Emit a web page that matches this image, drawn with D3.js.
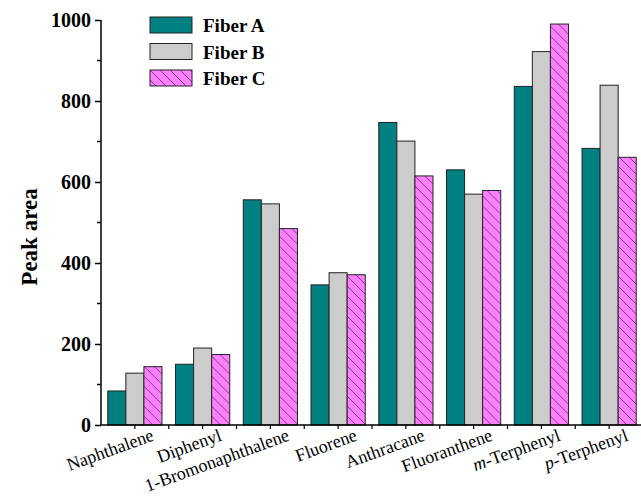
<!DOCTYPE html>
<html>
<head>
<meta charset="utf-8">
<script src="https://cdn.jsdelivr.net/npm/d3@7"></script>
<style>
  body { margin: 0; background: #fff; }
  svg { display: block; }
  text { font-family: "Liberation Serif", "Times New Roman", serif; }
</style>
</head>
<body>
<div id="chart"></div>
<script>
const compounds = ['Naphthalene', 'Diphenyl', '1-Bromonaphthalene', 'Fluorene',
                   'Anthracane', 'Fluoranthene', 'm-Terphenyl', 'p-Terphenyl'];
const seriesNames = ['Fiber A', 'Fiber B', 'Fiber C'];
const fiberA = [84, 150, 556, 346, 747, 630, 836, 683];
const fiberB = [128, 190, 546, 376, 701, 570, 922, 839];
const fiberC = [144, 174, 485, 371, 615, 579, 990, 661];
const yTicks = [0, 200, 400, 600, 800, 1000];

const width = 641;
const height = 502;
const plotLeft = 101;
const plotBottom = 425;
const plotTop = 20;
const serif = '"Liberation Serif", "Times New Roman", serif';

const svg = d3.select('#chart')
              .append('svg')
              .attr('width', width)
              .attr('height', height);

const defs = svg.append('defs');
const pat = defs.append('pattern')
                .attr('id', 'hatch')
                .attr('patternUnits', 'userSpaceOnUse')
                .attr('width', 10)
                .attr('height', 10);
pat.append('rect').attr('width', 10).attr('height', 10).attr('fill', '#ff80ff');
pat.append('path')
   .attr('d', 'M-1,-1 L11,11 M-1,9 L1,11 M9,-1 L11,1')
   .attr('stroke', '#5a2a6a')
   .attr('stroke-width', 0.8);

const fills = ['#008080', '#cccccc', 'url(#hatch)'];
const data = compounds.map((c, i) => ({
    name: c,
    values: [fiberA[i], fiberB[i], fiberC[i]]
}));

const x0 = d3.scaleBand()
             .domain(compounds)
             .range([plotLeft, 643])
             .paddingInner(0.2)
             .paddingOuter(0.1);
const x1 = d3.scaleBand()
             .domain(seriesNames)
             .range([0, x0.bandwidth()]);
const y = d3.scaleLinear()
            .domain([0, 1000])
            .range([plotBottom, plotTop]);

// bars
const groups = svg.selectAll('.group')
                  .data(data)
                  .enter()
                  .append('g')
                  .attr('class', 'group')
                  .attr('transform', d => `translate(${x0(d.name)},0)`);
groups.selectAll('rect')
      .data(d => d.values.map((v, j) => ({ key: seriesNames[j], value: v, j: j })))
      .enter()
      .append('rect')
      .attr('x', d => x1(d.key))
      .attr('y', d => y(d.value))
      .attr('width', x1.bandwidth())
      .attr('height', d => y(0) - y(d.value))
      .attr('fill', d => fills[d.j])
      .attr('stroke', '#222')
      .attr('stroke-width', 1);

// y axis
const yAxis = d3.axisLeft(y)
                .tickValues(yTicks)
                .tickFormat(d3.format('d'))
                .tickSize(6)
                .tickPadding(4);
const yg = svg.append('g')
              .attr('transform', `translate(${plotLeft},0)`)
              .call(yAxis)
              .attr('font-family', serif);
yg.select('.domain').attr('stroke', '#000').attr('stroke-width', 1.5)
  .attr('d', `M0,${plotTop}V${plotBottom}`);
yg.selectAll('.tick line').attr('stroke-width', 1.5);
yg.selectAll('.tick text')
  .attr('font-family', serif)
  .attr('font-weight', 'bold')
  .attr('font-size', 20)
  .attr('fill', '#000');

// minor ticks
svg.append('g')
   .selectAll('line')
   .data(d3.range(100, 1000, 200))
   .enter()
   .append('line')
   .attr('x1', plotLeft - 4)
   .attr('x2', plotLeft)
   .attr('y1', d => y(d))
   .attr('y2', d => y(d))
   .attr('stroke', '#000')
   .attr('stroke-width', 1.5);

// x axis
svg.append('line')
   .attr('x1', plotLeft)
   .attr('x2', width)
   .attr('y1', plotBottom)
   .attr('y2', plotBottom)
   .attr('stroke', '#000')
   .attr('stroke-width', 1.5);
const xTickPos = [];
compounds.forEach((c, i) => {
    xTickPos.push(x0(c) + x0.bandwidth() / 2);
    if (i > 0) xTickPos.push(x0(c) - x0.step() * 0.1);
});
svg.append('g')
   .selectAll('line')
   .data(xTickPos)
   .enter()
   .append('line')
   .attr('x1', d => d)
   .attr('x2', d => d)
   .attr('y1', plotBottom)
   .attr('y2', plotBottom + 4)
   .attr('stroke', '#000')
   .attr('stroke-width', 1.2);

// x labels
const xl = svg.append('g')
              .selectAll('text')
              .data(compounds)
              .enter()
              .append('text')
              .attr('transform', d => `translate(${x0(d) + x0.bandwidth() / 2 + 20},${plotBottom + 15}) rotate(-20)`)
              .attr('text-anchor', 'end')
              .attr('font-family', serif)
              .attr('font-size', 18)
              .attr('fill', '#000');
xl.each(function(d) {
    const t = d3.select(this);
    const m = d.match(/^([mp])(-.*)$/);
    if (m) {
        t.append('tspan').attr('font-style', 'italic').text(m[1]);
        t.append('tspan').text(m[2]);
    } else {
        t.text(d);
    }
});

// y title
svg.append('text')
   .attr('transform', `translate(37,237) rotate(-90)`)
   .attr('text-anchor', 'middle')
   .attr('font-family', serif)
   .attr('font-weight', 'bold')
   .attr('font-size', 23)
   .attr('fill', '#000')
   .text('Peak area');

// legend
const legend = svg.append('g')
                  .attr('transform', 'translate(150,17)');
const li = legend.selectAll('g')
                 .data(seriesNames)
                 .enter()
                 .append('g')
                 .attr('transform', (d, i) => `translate(0,${i * 26.5})`);
li.append('rect')
  .attr('width', 42)
  .attr('height', 16)
  .attr('fill', (d, i) => fills[i])
  .attr('stroke', '#222')
  .attr('stroke-width', 1);
li.append('text')
  .attr('x', 53)
  .attr('y', 15)
  .attr('font-family', serif)
  .attr('font-weight', 'bold')
  .attr('font-size', 19)
  .attr('fill', '#000')
  .text(d => d);
</script>
</body>
</html>
